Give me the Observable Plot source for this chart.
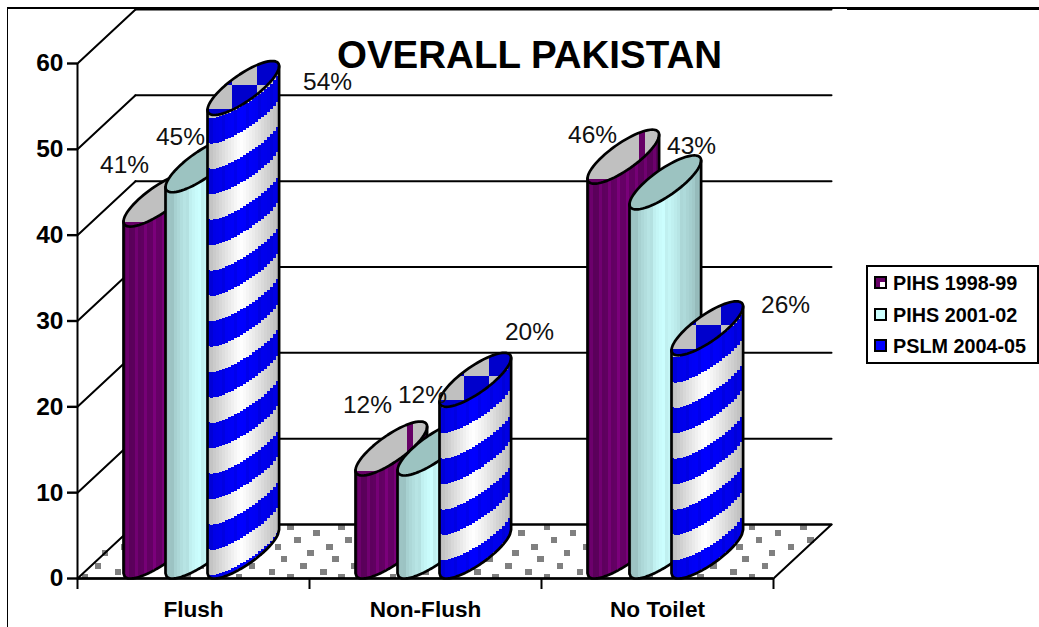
<!DOCTYPE html>
<html>
<head>
<meta charset="utf-8">
<script src="https://cdn.jsdelivr.net/npm/d3@7"></script>
<script src="https://cdn.jsdelivr.net/npm/@observablehq/plot@0.6"></script>
<style>
  html, body { margin: 0; padding: 0; background: #fff; }
  #stage { position: relative; width: 1039px; height: 627px; overflow: hidden; font-family: "Liberation Sans", Arial, sans-serif; }
  #stage svg { position: absolute; left: 0; top: 0; }
  .frame { position: absolute; background: #000; }
  #title { position: absolute; left: 229.5px; width: 600px; top: 38px; margin: 0; text-align: center; font-size: 38.5px; line-height: 34px; font-weight: bold; color: #000; }
  #legend { position: absolute; left: 866px; top: 265px; width: 169px; height: 95px; border: 2px solid #000; background: #fff; }
  .row { position: absolute; left: 6px; height: 18px; line-height: 18px; font-size: 19.8px; font-weight: bold; white-space: nowrap; color: #000; padding-left: 19px; }
  .sw { position: absolute; left: 0; top: 2px; width: 9px; height: 9px; border: 2px solid #000; }
  .sw i { position: absolute; right: 0; bottom: 0; width: 5px; height: 5px; background: #fff; }
</style>
</head>
<body>
<div id="stage">
  <div class="frame" style="left:7px;top:8px;width:1px;height:619px"></div>
  <div class="frame" style="left:7px;top:7px;width:840px;height:2px"></div>
  <div class="frame" style="left:847px;top:7px;width:192px;height:3px"></div>
  <h1 id="title">OVERALL PAKISTAN</h1>
  <div id="legend"></div>
</div>
<script>
const categories = ["Flush", "Non-Flush", "No Toilet"];
const seriesNames = ["PIHS 1998-99", "PIHS 2001-02", "PSLM 2004-05"];
const pihs1998 = [41, 12, 46];
const pihs2001 = [45, 12, 43];
const pslm2004 = [54, 20, 26];
const seriesValues = [pihs1998, pihs2001, pslm2004];
const valueTicks = [0, 10, 20, 30, 40, 50, 60];
const barLabels = ["41%", "12%", "46%", "45%", "12%", "43%", "54%", "20%", "26%"];
// label anchor positions (category units, value units)
const labelX = [0.203, 1.25, 2.22, 0.444, 1.487, 2.647, 1.078, 1.948, 3.052];
const labelY = [48.1, 20.2, 51.6, 51.4, 21.4, 50.4, 57.8, 28.7, 31.9];

// scale ratios (pixels per data unit) and 3-D oblique projection in data units
const PX = 232, PY = 515 / 60;
const depthX = 58 / PX, depthY = 54 / PY;
const barW = 42 / PX;
const groupOffset = 46 / PX;
const extent = Math.hypot(barW, depthX);
const phi = Math.atan2(depthX, barW);
const bandPhase = [3 / PY, 18 / PY, 18 / PY];
const bandStep = 25.4 / PY;

const front = u => depthY / 2 + depthY / 2 * Math.sin(phi - Math.acos(2 * u - 1));
const back = u => depthY / 2 + depthY / 2 * Math.sin(phi + Math.acos(2 * u - 1));
const shade = u => { const d = u < 0.47 ? (0.47 - u) / 0.47 : (u - 0.47) / 0.53; return 1 - 0.27 * Math.pow(d, 1.1); };
const grey = s => { const c = Math.round(255 * s); return `rgb(${c},${c},${c})`; };

const ink = "#000";

function bodyRects(left, value, si, gi) {
  const out = [], n = 24;
  for (let i = 0; i < n; i++) {
    const u0 = i / n, u1 = (i + 1) / n, u = (u0 + u1) / 2, s = shade(u);
    const f = front(u), top = f + value;
    const x1 = left + u0 * extent, x2 = left + u1 * extent;
    if (si === 0) {
      const k = (0.68 + 0.32 * s * s) * (i % 3 === 1 ? 1.22 : 1);
      const c = Math.round(102 * k);
      out.push({x1, x2, y1: f, y2: top, c: `rgb(${c},0,${c})`});
    } else if (si === 1) {
      const k = i % 5 === 2 ? s * 0.96 : s;
      out.push({x1, x2, y1: f, y2: top, c: `rgb(${Math.round(204 * k)},${Math.round(255 * k)},${Math.round(255 * k)})`});
    } else {
      const off = 0.75 * (f - front(1 / n / 2)) + 0.25 * (front(1 - 1 / n / 2) - front(1 / n / 2)) * u;
      for (let k = -1; k < 30; k++) {
        const a = bandPhase[gi] + k * bandStep + off;
        const y1 = Math.max(f, k === -1 ? -99 : a);
        const y2 = Math.min(top, a + bandStep);
        if (y2 <= y1) continue;
        const isBlue = k % 2 !== 0;
        const c = isBlue ? `rgb(0,0,${Math.round(255 * (0.55 + 0.45 * s) * (i % 4 === 1 ? 0.94 : 1))})` : grey(s);
        out.push({x1, x2, y1, y2, c});
      }
    }
  }
  return out;
}

function capRects(left, value, si) {
  const out = [], cols = 72;
  const capTop = value + depthY;
  for (let i = 0; i < cols; i++) {
    const u0 = i / cols, u1 = (i + 1) / cols, u = (u0 + u1) / 2;
    const lo = front(u) + value, hi = back(u) + value;
    const x1 = left + u0 * extent, x2 = left + u1 * extent;
    const px = u * 72;
    if (si === 1) {
      out.push({x1, x2, y1: lo, y2: hi, c: "#9cc3c1"});
    } else if (si === 0) {
      const inV = px >= 52 && px < 58;
      out.push({x1, x2, y1: lo, y2: hi, c: inV ? "#660066" : "#c0c0c0"});
      const b1 = capTop - 56 / PY, b2 = capTop - 50 / PY;
      const y1 = Math.max(lo, b1), y2 = Math.min(hi, b2);
      if (y2 > y1) out.push({x1, x2, y1, y2, c: "#660066"});
    } else {
      const cx = Math.floor(px / 25);
      for (let j = 0; j < 3; j++) {
        const t = capTop - j * 24 / PY, b = capTop - (j + 1) * 24 / PY;
        const y1 = Math.max(lo, b), y2 = Math.min(hi, t);
        if (y2 > y1) out.push({x1, x2, y1, y2, c: (cx + j) % 2 === 0 ? "#0000cc" : "#c0c0c0"});
      }
    }
  }
  return out;
}

function topEllipse(left, value) {
  const cx = left + extent / 2, pts = [];
  for (let a = 0; a <= 72; a++) {
    const t = a / 72 * 2 * Math.PI;
    pts.push({x: cx + barW / 2 * Math.cos(t) + depthX / 2 * Math.sin(t), y: value + depthY / 2 + depthY / 2 * Math.sin(t)});
  }
  return pts;
}

function outline(left, value) {
  const pts = [];
  pts.push({x: left, y: front(0) + value});
  for (let a = 0; a <= 60; a++) {
    const u = a / 60;
    pts.push({x: left + u * extent, y: front(u)});
  }
  pts.push({x: left + extent, y: front(1) + value});
  return pts;
}

// floor stipple: repeating tile
const tile = [[0, 0], [26, 6], [7, 13], [39, 20], [20, 26], [45, 32], [13, 39], [33, 45]];
const stipple = [];
for (let ty = -1; ty < 2; ty++) for (let tx = -15; tx < 3; tx++) for (const [ox, oy] of tile) {
  const cx = 752 + tx * 51.3 + ox, cy = 527 + ty * 50 + oy;
  const y0 = (578 - cy) / PY;
  if (y0 < -0.3 || y0 > depthY + 0.3) continue;
  const x0 = (cx - 77) / PX;
  const edgeL = y0 / depthY * depthX, edgeR = 3 + edgeL;
  if (x0 < edgeL || x0 > edgeR) continue;
  stipple.push({
    x1: x0 - 3.3 / PX, x2: x0 + 3.3 / PX,
    y1: Math.max(0, y0 - 3.3 / PY), y2: Math.min(depthY, y0 + 3.3 / PY)
  });
}

const floorEdge = [{x: 0, y: 0}, {x: 3, y: 0}, {x: 3 + depthX, y: depthY}, {x: depthX, y: depthY}];

const marks = [];
marks.push(Plot.rect(stipple, {x1: "x1", x2: "x2", y1: "y1", y2: "y2", fill: "#808080", shapeRendering: "crispEdges"}));
// back wall gridlines and side wall depth lines
for (const v of valueTicks) {
  marks.push(Plot.line([{x: depthX, y: v + depthY}, {x: 3 + depthX, y: v + depthY}], {x: "x", y: "y", stroke: ink, strokeWidth: 2}));
  marks.push(Plot.line([{x: 0, y: v}, {x: depthX, y: v + depthY}], {x: "x", y: "y", stroke: ink, strokeWidth: 2}));
}
marks.push(Plot.line(floorEdge, {x: "x", y: "y", stroke: ink, strokeWidth: 2}));
marks.push(Plot.axisY({ticks: valueTicks, tickSize: 10, tickPadding: 4, fontSize: 24.5, fontWeight: "bold", stroke: ink, strokeWidth: 2.4, fill: ink, label: null}));
marks.push(Plot.axisX({ticks: [0, 1, 2, 3], tickSize: 11, tickFormat: () => "", stroke: ink, strokeWidth: 2, label: null}));
marks.push(Plot.ruleX([0], {y1: 0, y2: 60, stroke: ink, strokeWidth: 2}));
marks.push(Plot.ruleY([0], {x1: 0, x2: 3, stroke: ink, strokeWidth: 2.4}));
marks.push(Plot.text(categories, {x: (d, i) => i + 0.5, y: () => 0, dy: 31, text: d => d, fontSize: 22.6, fontWeight: "bold", fill: ink}));

categories.forEach((cat, gi) => {
  seriesValues.forEach((vals, si) => {
    const left = gi + groupOffset + si * barW;
    const v = vals[gi];
    marks.push(Plot.rect(bodyRects(left, v, si, gi), {x1: "x1", x2: "x2", y1: "y1", y2: "y2", fill: "c", shapeRendering: "crispEdges"}));
    marks.push(Plot.rect(capRects(left, v, si), {x1: "x1", x2: "x2", y1: "y1", y2: "y2", fill: "c", shapeRendering: "crispEdges"}));
    marks.push(Plot.line(outline(left, v), {x: "x", y: "y", stroke: ink, strokeWidth: 2.7, strokeLinejoin: "round"}));
    marks.push(Plot.line(topEllipse(left, v), {x: "x", y: "y", stroke: ink, strokeWidth: 2.7}));
  });
});

marks.push(Plot.text(barLabels, {x: (d, i) => labelX[i], y: (d, i) => labelY[i], text: d => d, fontSize: 24.5, fill: "#111"}));

const chart = Plot.plot({
  width: 1039, height: 627,
  marginLeft: 77, marginRight: 266, marginTop: 63, marginBottom: 49,
  x: {type: "linear", domain: [0, 3]},
  y: {type: "linear", domain: [0, 60]},
  color: {type: "identity"},
  style: {background: "transparent", fontFamily: '"Liberation Sans", Arial, sans-serif'},
  marks
});
const stage = document.getElementById("stage");
stage.insertBefore(chart, stage.firstChild);

const swatchFill = ["#660066", "#ccffff", "#0000ff"];
const legend = document.getElementById("legend");
seriesNames.forEach((name, i) => {
  const row = document.createElement("div");
  row.className = "row";
  row.style.top = (7 + i * 31.5) + "px";
  row.textContent = name;
  const sw = document.createElement("span");
  sw.className = "sw";
  sw.style.background = swatchFill[i];
  if (i === 0) sw.appendChild(document.createElement("i"));
  row.appendChild(sw);
  legend.appendChild(row);
});
</script>
</body>
</html>
